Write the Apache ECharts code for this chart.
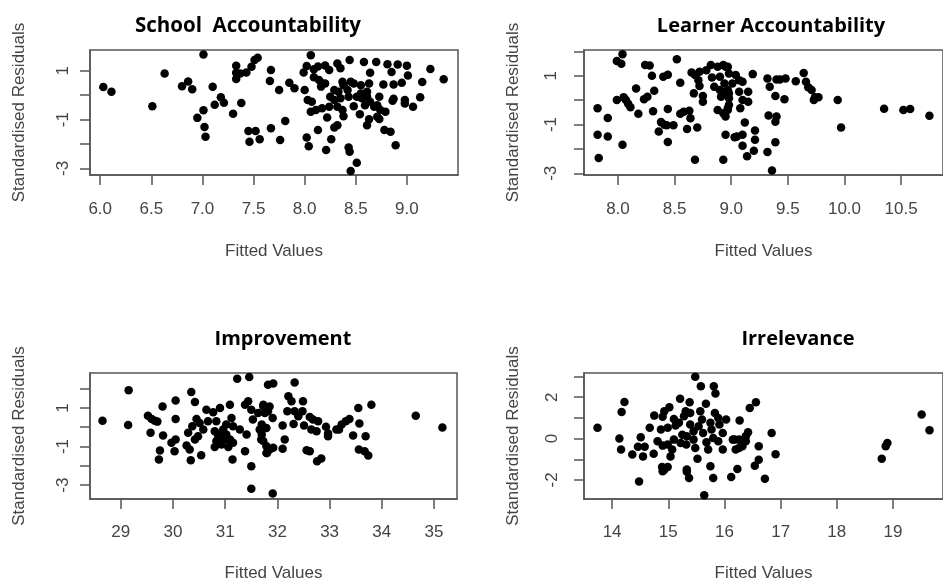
<!DOCTYPE html>
<html><head><meta charset="utf-8">
<script src="https://cdn.jsdelivr.net/npm/echarts@6/dist/echarts.min.js"></script>
<style>html,body{margin:0;padding:0;background:#fff}#c{width:943px;height:583px}</style>
</head><body><div id="c"></div>
<script>
// ---------- data ----------
const titles = ['School  Accountability', 'Learner Accountability', 'Improvement', 'Irrelevance'];
const xName = 'Fitted Values';
const yName = 'Standardised Residuals';

const schoolPts = [
[6.03,0.33],[6.11,0.14],[6.51,-0.45],[6.63,0.89],[7.01,1.67],[6.80,0.37],[6.86,0.56],[6.90,0.24],
[7.10,0.34],[7.12,-0.39],[7.18,-0.09],[7.21,-0.31],[6.95,-0.93],[7.01,-0.62],[7.02,-1.30],[7.03,-1.70],
[7.30,-0.76],[7.38,-0.32],[7.33,1.20],[7.33,0.92],[7.33,0.66],[7.37,0.89],[7.43,0.93],[7.48,1.16],
[7.51,1.44],[7.54,1.53],[7.45,-1.47],[7.52,-1.47],[7.46,-1.91],[7.56,-1.81],[7.67,1.03],[7.66,0.58],
[7.67,-1.36],[7.75,0.21],[7.76,-1.84],[7.81,-1.06],[7.85,0.51],[7.90,0.28],[8.00,0.21],
[8.06,1.64],[8.02,1.19],[7.99,0.93],[8.09,1.06],[8.13,1.17],[8.20,1.22],[8.24,1.03],[8.32,1.30],
[8.35,1.10],[8.44,1.44],[8.58,1.36],[8.64,0.92],[8.70,1.36],[8.81,1.27],[8.85,0.95],[8.91,1.26],
[9.00,1.21],[9.01,0.81],[9.23,1.07],[9.36,0.65],[8.09,0.73],[8.14,0.62],[8.17,0.48],[8.16,0.35],
[8.20,0.48],[8.37,0.55],[8.38,0.41],[8.45,0.55],[8.48,0.48],[8.55,0.41],[8.63,0.48],[8.77,0.44],
[8.87,0.44],[8.95,0.51],[9.15,0.54],[8.29,0.21],[8.33,0.14],[8.42,0.21],[8.55,0.07],[8.61,0.14],
[8.73,-0.06],[8.03,-0.20],[8.07,-0.27],[8.25,-0.06],[8.29,-0.20],[8.35,-0.13],[8.43,-0.06],[8.51,-0.06],
[8.56,-0.13],[8.61,-0.06],[8.64,-0.27],[8.86,-0.23],[8.87,-0.15],[8.98,-0.20],[8.98,-0.34],[9.06,-0.47],
[9.13,-0.09],[8.06,-0.68],[8.11,-0.61],[8.17,-0.54],[8.24,-0.47],[8.32,-0.47],[8.37,-0.61],[8.48,-0.45],
[8.59,-0.41],[8.68,-0.47],[8.71,-0.41],[8.74,-0.61],[8.79,-0.68],[8.71,-0.88],[8.22,-0.91],[8.38,-0.86],
[8.54,-0.78],[8.63,-0.99],[8.61,-1.23],[8.73,-0.98],[8.32,-1.23],[8.29,-1.32],[8.13,-1.43],[8.78,-1.43],
[8.84,-1.50],[8.02,-1.73],[8.26,-1.81],[8.04,-2.09],[8.21,-2.25],[8.43,-2.14],[8.44,-2.32],[8.89,-2.05],
[8.51,-2.77],[8.45,-3.11]
];

const learnerPts = [
[7.82,-0.33],[7.91,-0.73],[7.82,-1.42],[7.91,-1.49],[7.83,-2.37],[8.04,1.89],[7.99,1.61],[8.03,1.50],
[8.04,-1.83],[7.99,0.01],[8.05,0.12],[8.07,0.01],[8.09,-0.15],[8.11,-0.29],[8.16,0.48],[8.18,-0.56],
[8.23,0.04],[8.26,0.14],[8.24,1.44],[8.28,1.42],[8.30,1.00],[8.32,0.39],[8.31,-0.45],[8.38,-0.90],
[8.36,-1.28],[8.41,-1.01],[8.40,0.96],[8.44,1.04],[8.44,-0.36],[8.43,-1.03],[8.49,-1.03],[8.44,-1.72],
[8.52,1.68],[8.55,0.72],[8.55,-0.56],[8.58,-0.47],[8.63,-0.43],[8.64,-0.74],[8.61,-1.18],[8.70,-1.12],
[8.68,-2.44],[8.65,1.14],[8.68,1.03],[8.72,1.17],[8.71,0.82],[8.72,0.58],[8.67,0.28],[8.75,0.17],
[8.75,-0.06],[8.78,1.23],[8.82,1.44],[8.88,1.37],[8.93,1.44],[8.95,1.37],[8.83,0.93],[8.85,0.55],
[8.90,0.96],[8.90,0.42],[8.91,0.14],[8.94,0.69],[8.98,1.10],[8.95,0.35],[8.98,0.28],[8.88,-0.40],
[8.93,-0.54],[8.97,-0.40],[8.95,-0.67],[8.98,-0.20],[8.95,-1.42],[8.93,-2.44],[9.03,-1.52],
[8.97,1.37],[9.04,1.03],[9.07,0.82],[9.10,0.76],[9.01,0.69],[8.97,0.42],[9.07,0.35],[9.15,0.35],
[8.98,0.08],[9.10,0.01],[9.15,-0.06],[8.97,-0.33],[9.08,-0.33],[9.19,1.07],[9.12,-0.92],[9.21,-1.24],
[9.05,-1.49],[9.10,-1.42],[9.21,-1.62],[9.10,-1.87],[9.20,-2.07],[9.14,-2.30],[9.32,0.89],[9.34,0.55],
[9.40,0.85],[9.43,0.85],[9.48,0.89],[9.39,0.17],[9.47,0.04],[9.33,-0.63],[9.40,-0.67],[9.39,-0.88],
[9.39,-1.73],[9.32,-2.13],[9.36,-2.89],[9.57,0.78],[9.64,1.12],[9.66,0.76],[9.68,0.53],[9.71,0.42],
[9.73,0.01],[9.74,0.12],[9.77,0.12],[9.94,0.01],[9.97,-1.12],[10.35,-0.35],[10.52,-0.40],[10.58,-0.36],
[10.75,-0.64]
];

const improvementPts = [
[28.65,0.34],[29.15,1.91],[29.14,0.12],[29.52,0.60],[29.59,0.43],[29.65,0.34],[29.70,0.29],[29.57,-0.29],
[29.80,1.08],[29.81,-0.43],[29.75,-1.21],[29.73,-1.67],[30.05,1.39],[30.05,0.43],[29.97,-0.81],[30.05,-0.64],
[30.03,-1.24],[30.35,1.82],[30.42,1.31],[30.26,-0.95],[30.32,-1.15],[30.34,-1.71],[30.54,-1.45],[30.29,-0.29],
[30.37,0.05],[30.45,0.43],[30.51,0.22],[30.58,-0.12],[30.42,-0.64],[30.48,-0.47],[30.64,0.91],[30.67,0.31],
[30.77,0.77],[30.83,0.31],[30.90,1.00],[30.80,-0.21],[30.83,-0.72],[30.80,-1.02],[30.90,-0.47],[30.96,-0.12],
[30.99,-0.64],[31.02,0.14],[31.09,1.17],[31.12,0.48],[31.15,0.05],[31.06,-1.02],[31.15,-0.81],[31.14,-1.67],
[31.23,2.51],[31.46,2.60],[31.28,-0.12],[31.38,1.17],[31.44,1.34],[31.50,0.91],[31.41,-0.38],[31.38,-1.24],
[31.50,-2.02],[31.50,-3.19],[31.53,0.40],[31.63,0.74],[31.66,-0.12],[31.69,-0.64],[31.73,1.17],[31.79,-1.33],
[31.82,2.20],[30.86,-0.38],[30.93,-0.90],[31.02,-0.38],[31.09,-0.64],
[31.92,2.26],[32.33,2.32],[31.91,-3.43],[31.73,1.08],[31.79,1.00],[31.85,1.08],[31.76,0.74],[31.82,0.83],
[31.91,0.48],[31.70,0.14],[31.79,-0.04],[31.70,-0.38],[31.73,-0.72],[31.79,-0.98],[31.85,-1.15],[31.92,-1.07],
[31.80,-1.33],[32.10,0.09],[32.14,-0.64],[32.10,-1.12],[32.21,1.60],[32.27,1.34],[32.19,0.83],[32.33,0.83],
[32.49,1.34],[32.48,0.83],[32.40,0.57],[32.31,0.17],[32.51,0.09],[32.62,0.53],[32.68,0.40],[32.78,0.31],
[32.65,-0.12],[32.75,-0.21],[32.56,-1.19],[32.62,-1.24],[32.76,-1.76],[32.84,-1.62],[32.93,0.03],[32.97,-0.33],
[32.97,-0.47],[33.13,-0.12],[33.18,-0.12],[33.23,0.14],[33.31,0.31],[33.38,0.43],[33.45,-0.43],[33.55,1.00],
[33.57,0.19],[33.69,-0.47],[33.80,1.17],[33.56,-1.15],[33.67,-1.24],[33.74,-1.46],[34.65,0.60],[35.16,-0.02]
];

const irrelevancePts = [
[13.74,0.52],[14.13,0.00],[14.16,-0.53],[14.17,1.29],[14.22,1.77],[14.36,-0.77],[14.48,-2.07],[14.51,0.06],
[14.46,-0.40],[14.55,-0.86],[14.58,-0.40],[14.67,0.52],[14.75,1.11],[14.74,-0.73],[14.81,-0.13],[14.87,0.44],
[14.90,1.05],[14.93,1.32],[15.02,1.52],[14.89,-1.37],[14.93,-1.50],[14.99,-1.37],[14.90,-0.34],[14.99,-0.29],
[15.07,-0.53],[15.04,-0.86],[15.10,0.95],[15.13,0.63],[15.19,0.76],[15.21,1.92],[15.25,0.19],[15.28,1.08],
[15.31,1.32],[15.32,-0.29],[15.33,-1.50],[15.38,1.76],[15.39,1.24],[15.39,0.68],[15.45,0.36],[15.45,-0.05],
[15.48,-0.45],[15.52,-0.98],[15.37,-1.90],[15.48,2.99],[15.58,2.53],[15.57,1.32],[15.60,0.92],[15.54,0.60],
[15.62,0.27],[15.68,-0.18],[15.71,-0.53],[15.67,1.68],[15.75,0.76],[15.77,0.44],[15.80,0.03],[15.75,-1.34],
[15.81,2.53],[15.84,2.18],[15.80,-1.90],[15.83,1.24],[15.89,1.00],[15.91,0.68],[15.89,-0.13],[15.97,0.27],
[15.97,-0.53],[16.03,0.92],[16.12,-1.86],[16.18,-0.05],[15.10,-0.05],[15.22,-0.21],[15.33,0.11],[14.99,0.52],
[14.90,-1.58],[15.33,-1.60],[16.72,-1.94],[15.64,-2.74],[16.23,-1.47],
[16.56,1.76],[16.45,1.48],[16.27,0.88],[16.15,-0.05],[16.26,-0.05],[16.38,-0.13],[16.42,0.31],[16.38,0.11],
[16.26,-0.45],[16.32,-0.37],[16.20,-0.53],[16.61,-0.37],[16.84,0.27],[16.91,-0.76],[16.61,-1.02],[16.54,-1.31],
[18.90,-0.21],[18.87,-0.37],[18.80,-0.98],[19.51,1.16],[19.65,0.40]
];

const xTicks = [[6.0,6.5,7.0,7.5,8.0,8.5,9.0],[8.0,8.5,9.0,9.5,10.0,10.5],[29,30,31,32,33,34,35],[14,15,16,17,18,19]];
const yTicks = [[1,0,-1,-2,-3],[2,1,0,-1,-2,-3],[2,1,0,-1,-2,-3],[3,2,1,0,-1,-2]];
const yLabels = [[1,-1,-3],[1,-1,-3],[1,-1,-3],[2,0,-2]];
const xRange = [[5.90,9.50],[7.70,10.87],[28.41,35.44],[13.50,19.89]];
const yRange = [[-3.27,1.85],[-3.07,2.06],[-3.72,2.81],[-2.92,3.17]];
const allPts = [schoolPts, learnerPts, improvementPts, irrelevancePts];

// ---------- layout ----------
const grids = [
  {left:90, top:50, width:368, height:125},
  {left:584, top:50, width:368, height:125},
  {left:90, top:373, width:367, height:126},
  {left:584, top:373, width:368, height:126}
];
const titlePos = [[243,11],[766,11],[278,324],[793,324]];
const titleSize = [20.5,20,20,20];
const xDec = [1,1,0,0];
const yLabMargin = [18.5,24.5,18.5,23];
const xLabMargin = [25.5,25.5,24.5,24.5];
const xNameGap = [67.5,67.5,65.5,65.5];

const axisColor = '#555';
const textColor = '#444';
const font = 'Liberation Sans, Arial, sans-serif';

const option = {
  animation:false,
  backgroundColor:'#fff',
  title: titles.map((t,i)=>({
    text:t, left:titlePos[i][0], top:titlePos[i][1], textAlign:'center',
    textStyle:{fontFamily:'Open Sans, sans-serif', fontWeight:'bold', fontSize:titleSize[i], color:'#000'}
  })),
  grid: grids.map(g=>Object.assign({show:true, borderColor:axisColor, borderWidth:1.5, backgroundColor:'transparent'}, g)),
  xAxis: grids.map((g,i)=>({
    type:'value', gridIndex:i, min:xRange[i][0], max:xRange[i][1],
    name:xName, nameLocation:'middle', nameGap:xNameGap[i],
    nameTextStyle:{fontFamily:font, fontSize:17, color:textColor},
    axisLine:{show:true, onZero:false, lineStyle:{color:axisColor, width:1.5}},
    axisTick:{show:true, inside:false, length:10, customValues:xTicks[i], lineStyle:{color:axisColor, width:1.5}},
    axisLabel:{show:true, customValues:xTicks[i], margin:xLabMargin[i], fontFamily:font, fontSize:17, color:textColor,
      formatter:v=>Number(v).toFixed(xDec[i])},
    splitLine:{show:false}
  })),
  yAxis: grids.map((g,i)=>({
    type:'value', gridIndex:i, min:yRange[i][0], max:yRange[i][1],
    name:yName, nameLocation:'middle', nameGap:62.5,
    nameTextStyle:{fontFamily:font, fontSize:17, color:textColor},
    axisLine:{show:true, onZero:false, lineStyle:{color:axisColor, width:1.5}},
    axisTick:{show:true, inside:false, length:10, customValues:yTicks[i], lineStyle:{color:axisColor, width:1.5}},
    axisLabel:{show:true, customValues:yLabels[i], rotate:90, margin:yLabMargin[i], fontFamily:font, fontSize:17, color:textColor,
      formatter:v=>String(Math.round(v))},
    splitLine:{show:false}
  })),
  series: allPts.map((d,i)=>({
    type:'scatter', xAxisIndex:i, yAxisIndex:i, data:d, symbol:'circle', symbolSize:8.5,
    itemStyle:{color:'#000', opacity:1}, silent:true
  }))
};
const chart = echarts.init(document.getElementById('c'), null, {renderer:'canvas'});
chart.setOption(option);
</script></body></html>
